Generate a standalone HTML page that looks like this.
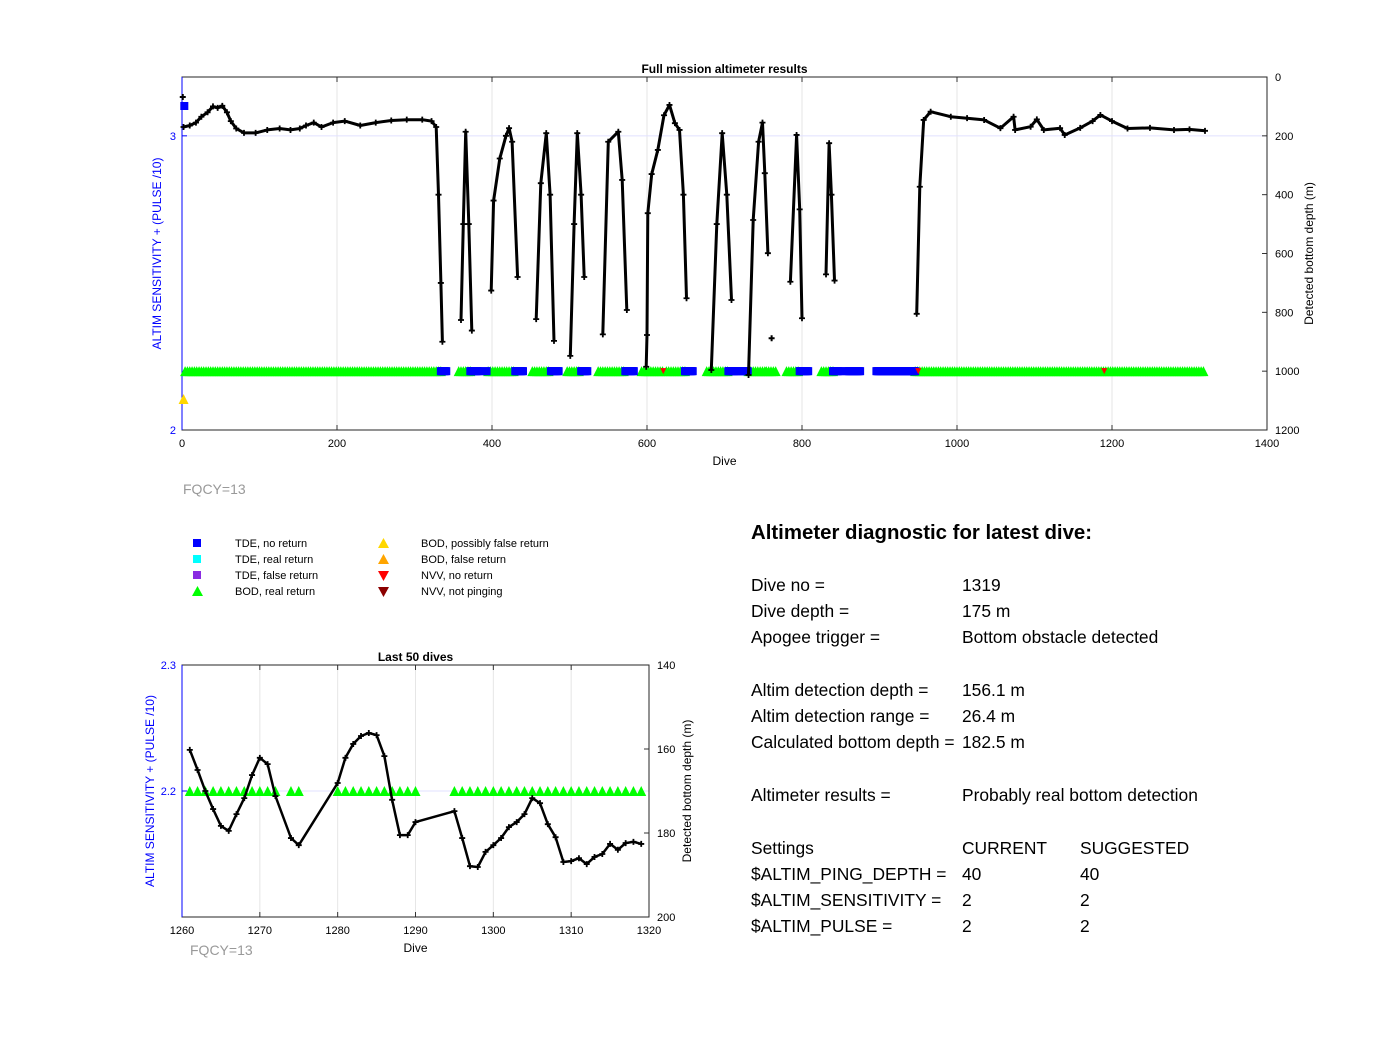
<!DOCTYPE html>
<html><head><meta charset="utf-8"><style>
body{margin:0;background:#fff;font-family:"Liberation Sans",sans-serif}
svg text{font-family:"Liberation Sans",sans-serif}
</style></head><body>
<svg id="s" width="1400" height="1032" xmlns="http://www.w3.org/2000/svg">
<rect width="1400" height="1032" fill="#fff"/>
<g id="top"></g>
<g id="bot"></g>
<g font-size="11" fill="#000">
<rect x="193" y="539" width="8" height="8" fill="#0000ff"/>
<text x="235" y="547">TDE, no return</text>
<rect x="193" y="555" width="8" height="8" fill="#00ffff"/>
<text x="235" y="563">TDE, real return</text>
<rect x="193" y="571" width="8" height="8" fill="#8a2be2"/>
<text x="235" y="579">TDE, false return</text>
<polygon points="192,596 203,596 197.5,586" fill="#00ff00"/>
<text x="235" y="595">BOD, real return</text>
<polygon points="378,548 389,548 383.5,538" fill="#ffd700"/>
<text x="421" y="547">BOD, possibly false return</text>
<polygon points="378,564 389,564 383.5,554" fill="#ffa500"/>
<text x="421" y="563">BOD, false return</text>
<polygon points="378,571 389,571 383.5,581" fill="#ff0000"/>
<text x="421" y="579">NVV, no return</text>
<polygon points="378,587 389,587 383.5,597" fill="#8b0000"/>
<text x="421" y="595">NVV, not pinging</text>
</g>
<text x="183" y="494" font-size="14" fill="#999">FQCY=13</text>
<text x="190" y="955" font-size="14" fill="#999">FQCY=13</text>
<g font-size="17.4" fill="#000">
<text x="751" y="539" font-size="20.4" font-weight="bold">Altimeter diagnostic for latest dive:</text>
<text x="751" y="591">Dive no =</text><text x="962" y="591">1319</text>
<text x="751" y="617">Dive depth =</text><text x="962" y="617">175 m</text>
<text x="751" y="643">Apogee trigger =</text><text x="962" y="643">Bottom obstacle detected</text>
<text x="751" y="696">Altim detection depth =</text><text x="962" y="696">156.1 m</text>
<text x="751" y="722">Altim detection range =</text><text x="962" y="722">26.4 m</text>
<text x="751" y="748">Calculated bottom depth =</text><text x="962" y="748">182.5 m</text>
<text x="751" y="801">Altimeter results =</text><text x="962" y="801">Probably real bottom detection</text>
<text x="751" y="854">Settings</text><text x="962" y="854">CURRENT</text><text x="1080" y="854">SUGGESTED</text>
<text x="751" y="880">$ALTIM_PING_DEPTH =</text><text x="962" y="880">40</text><text x="1080" y="880">40</text>
<text x="751" y="906">$ALTIM_SENSITIVITY =</text><text x="962" y="906">2</text><text x="1080" y="906">2</text>
<text x="751" y="932">$ALTIM_PULSE =</text><text x="962" y="932">2</text><text x="1080" y="932">2</text>
</g>
</svg>
<script>
// ---- top chart data (null depth = gap between segments) ----
const topDives=[2,10,18,25,33,40,46,52,58,63,70,80,95,110,126,140,152,160,170,180,195,210,230,250,270,290,310,322,328,331,334,336,0,
360,363,366,370,374,0,
399,402,410,418,422,426,433,0,
457,463,470,475,480,0,
501,506,510,515,519,0,
543,550,563,568,574,0,
599,600,601,606,614,622,629,636,642,647,651,0,
683,690,697,703,709,0,
731,737,744,749,752,756,0,
785,793,797,800,0,
831,835,838,842,0,
948,952,957,966,992,1013,1035,1056,1073,1075,1095,1103,1112,1133,1139,1159,1175,1185,1200,1220,1249,1280,1300,1320];
const topDepth=[170,165,155,135,120,100,105,98,120,150,175,190,190,180,175,180,175,165,155,170,155,150,165,155,148,145,145,150,170,400,700,900,null,
826,500,186,500,862,null,
726,420,277,200,174,220,680,null,
823,361,191,400,897,null,
948,500,191,400,680,null,
875,220,186,350,792,null,
985,877,463,330,248,130,95,157,180,400,752,null,
996,500,191,400,758,null,
1013,486,220,155,327,599,null,
696,197,450,820,null,
671,225,400,692,null,
805,373,146,118,135,140,146,174,135,180,169,144,180,174,197,173,150,129,150,175,173,180,178,183];
const greenRanges=[[4,334],[357,372],[395,430],[452,475],[497,513],[537,572],[593,621],[625,649],[677,705],[731,752],[754,767],[780,797],[825,840],[946,1319]];
const blueRanges=[[334,341],[372,383],[392,393],[430,440],[476,486],[515,523],[572,583],[649,659],[705,718],[724,730],[797,808],[840,849],[858,875],[896,946]];
const redDives=[621,950,1190];
const topXTicks=[0,200,400,600,800,1000,1200,1400];
const topDepthTicks=[0,200,400,600,800,1000,1200];
const topLeftTicks=[2,3];
// ---- bottom chart data ----
const botDives=[1261,1262,1263,1264,1265,1266,1267,1268,1269,1270,1271,1272,1274,1275,1280,1281,1282,1283,1284,1285,1286,1287,1288,1289,1290,
1295,1296,1297,1298,1299,1300,1301,1302,1303,1304,1305,1306,1307,1308,1309,1310,1311,1312,1313,1314,1315,1316,1317,1318,1319];
const botDepth=[160.2,165,170,174.3,178.3,179.5,175.5,171.7,166.2,162.1,163.6,171.2,181.2,182.9,168.1,162.1,158.8,156.9,156.2,156.7,161.7,172.1,180.5,180.5,177.4,
174.8,181.2,187.9,188.1,184.5,182.9,181.2,178.6,177.4,175.5,171.7,172.9,177.9,181,186.9,186.7,186,187.4,185.7,185,182.6,184,182.4,182.1,182.6];
const botXTicks=[1260,1270,1280,1290,1300,1310,1320];
const botDepthTicks=[140,160,180,200];
const botLeftTicks=[2.2,2.3];

const NS="http://www.w3.org/2000/svg";
function mk(p,tag,a){const e=document.createElementNS(NS,tag);for(const k in a)e.setAttribute(k,a[k]);p.appendChild(e);return e;}
function txt(p,x,y,s,a){const e=mk(p,'text',Object.assign({x:x,y:y,'font-size':11},a||{}));e.textContent=s;return e;}

function chart(g,o){
  const X=d=>o.x0+(d-o.d0)/(o.d1-o.d0)*(o.x1-o.x0);
  const Y=v=>o.y0+(v-o.v0)/(o.v1-o.v0)*(o.y1-o.y0);
  const L=v=>Y(o.depthOfLeft(v));
  o.xTicks.forEach(t=>{const x=X(t);
    if(t>o.d0&&t<o.d1){const l=mk(g,'line',{x1:x,x2:x,y1:o.y0,y2:o.y1,stroke:'#e6e6e6'});}
    mk(g,'line',{x1:x,x2:x,y1:o.y1,y2:o.y1-5,stroke:'#333'});mk(g,'line',{x1:x,x2:x,y1:o.y0,y2:o.y0+5,stroke:'#333'});
    const tl=txt(g,x,o.y1+17,String(t),{'text-anchor':'middle'});});
  o.leftTicks.forEach(t=>{const y=L(t);
    mk(g,'line',{x1:o.x0,x2:o.x1,y1:y,y2:y,stroke:'#e0e0ff'});
    mk(g,'line',{x1:o.x0,x2:o.x0+5,y1:y,y2:y,stroke:'#00f'});
    const tl=txt(g,o.x0-6,y+4,String(t),{'text-anchor':'end',fill:'#00f'});});
  o.depthTicks.forEach(t=>{const y=Y(t);
    mk(g,'line',{x1:o.x1,x2:o.x1-5,y1:y,y2:y,stroke:'#333'});
    const tl=txt(g,o.x1+8,y+4,String(t));});
  mk(g,'rect',{x:o.x0,y:o.y0,width:o.x1-o.x0,height:o.y1-o.y0,fill:'none',stroke:'#262626','stroke-width':1});
  mk(g,'line',{x1:o.x0,x2:o.x0,y1:o.y0,y2:o.y1,stroke:'#00f'});
  const yb=Y(o.barDepth);
  const tri=(d,c,down,s)=>{const x=X(d);return mk(g,'polygon',{points:down?`${x-s},${yb-s} ${x+s},${yb-s} ${x},${yb+s}`:`${x-s},${yb+s} ${x+s},${yb+s} ${x},${yb-s}`,fill:c});};
  o.green.forEach(r=>{for(let d=r[0];d<=r[1];d+=o.step){const p=tri(d,'#00ff00',false,o.tri);}});
  o.blue.forEach(r=>{for(let d=r[0];d<=r[1];d+=1){const s=4;const p=mk(g,'rect',{x:X(d)-s,y:yb-s,width:2*s,height:2*s,fill:'#0000ff'});}});
  o.red.forEach(d=>{const p=tri(d,'#ff0000',true,3);});
  let segs=[[]];
  o.dives.forEach((d,i)=>{const v=o.depth[i];if(v===null){segs.push([]);return;}segs[segs.length-1].push(X(d).toFixed(1)+','+Y(v).toFixed(1));});
  segs.forEach(sg=>{if(!sg.length)return;const pl=mk(g,'polyline',{points:sg.join(' '),fill:'none',stroke:'#000','stroke-width':o.lw,'stroke-linejoin':'round'});
    });
  o.dives.forEach((d,i)=>{const v=o.depth[i];if(v===null)return;const x=X(d),y=Y(v);const m=mk(g,'path',{d:`M${x-3},${y}H${x+3}M${x},${y-3}V${y+3}`,stroke:'#000','stroke-width':1.8});
    });
  const t=txt(g,(o.x0+o.x1)/2,o.y0-4,o.title,{'text-anchor':'middle','font-weight':'bold','font-size':12});
  const xl=txt(g,(o.x0+o.x1)/2,o.y1+35,'Dive',{'text-anchor':'middle','font-size':12});
  const yl=txt(g,0,0,'ALTIM SENSITIVITY + (PULSE /10)',{'text-anchor':'middle','font-size':12,fill:'#00f',transform:`translate(${o.x0-o.lOff},${(o.y0+o.y1)/2}) rotate(-90)`});
  const yr=txt(g,0,0,'Detected bottom depth (m)',{'text-anchor':'middle','font-size':12,transform:`translate(${o.x1+o.rOff},${(o.y0+o.y1)/2}) rotate(-90)`});
  return {X,Y};
}
const T=chart(document.getElementById('top'),{x0:182,x1:1267,y0:77,y1:430,d0:0,d1:1400,v0:0,v1:1200,
  depthOfLeft:v=>(3.2-v)*1000,xTicks:topXTicks,depthTicks:topDepthTicks,leftTicks:topLeftTicks,
  dives:topDives,depth:topDepth,green:greenRanges,blue:blueRanges,red:redDives,barDepth:1000,tri:5,step:3,lw:3,
  title:'Full mission altimeter results',lOff:21,rOff:46});
const tg=document.getElementById('top');
const a=mk(tg,'rect',{x:T.X(3)-4,y:102,width:8,height:8,fill:'#0000ff'});
const b=mk(tg,'polygon',{points:`${T.X(2)-5},404 ${T.X(2)+5},404 ${T.X(2)},394`,fill:'#ffd700'});
const c=mk(tg,'path',{d:`M${T.X(1)-3},97H${T.X(1)+3}M${T.X(1)},94V100`,stroke:'#000','stroke-width':2});
const iso=mk(tg,'path',{d:`M${T.X(760.8)-3},${T.Y(888)}h6M${T.X(760.8)},${T.Y(888)-3}v6`,stroke:'#000','stroke-width':2});
const botGreen=botDives.map(d=>[d,d]);
chart(document.getElementById('bot'),{x0:182,x1:649,y0:665,y1:917,d0:1260,d1:1320,v0:140,v1:200,
  depthOfLeft:v=>140+(2.3-v)/0.1*30,xTicks:botXTicks,depthTicks:botDepthTicks,leftTicks:botLeftTicks,
  dives:botDives,depth:botDepth,green:botGreen,blue:[],red:[],barDepth:170,tri:5,step:1,lw:2.5,
  title:'Last 50 dives',lOff:28,rOff:42});
</script>
</body></html>
